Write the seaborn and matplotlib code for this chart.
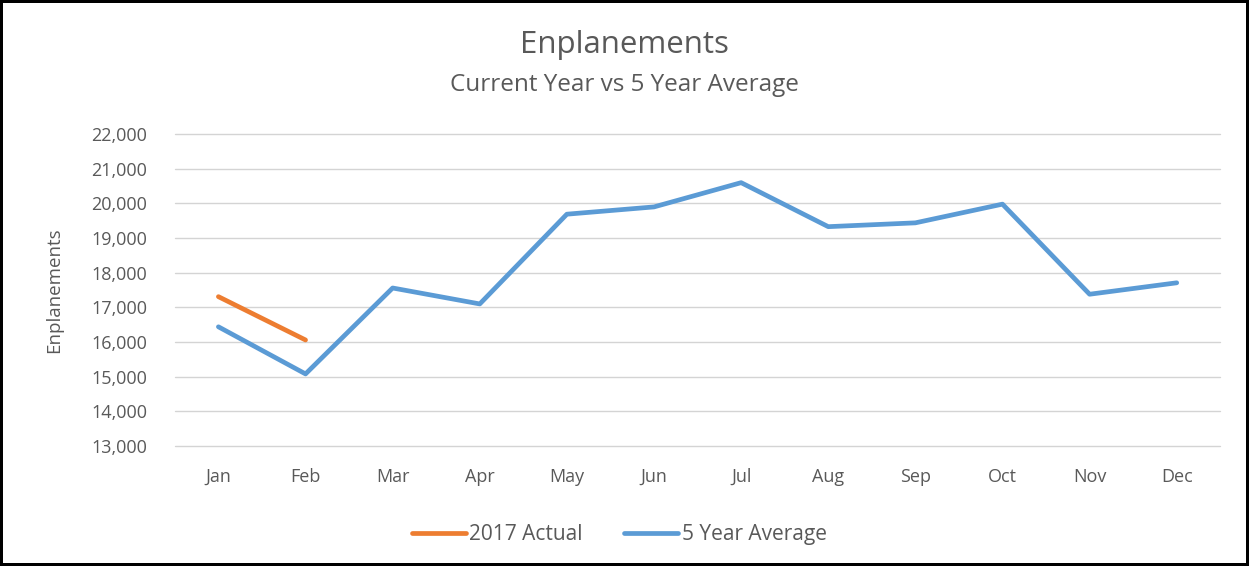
import matplotlib
matplotlib.use("Agg")
import matplotlib.pyplot as plt
import seaborn as sns
import pandas as pd
from matplotlib.ticker import FuncFormatter

months = ["Jan", "Feb", "Mar", "Apr", "May", "Jun", "Jul", "Aug", "Sep", "Oct", "Nov", "Dec"]
actual_2017 = [17310, 16060]
five_year_avg = [16440, 15080, 17560, 17100, 19690, 19900, 20600, 19330, 19440, 19980, 17380, 17710]
y_ticks = [13000, 14000, 15000, 16000, 17000, 18000, 19000, 20000, 21000, 22000]

sns.set_style("white")
plt.rcParams['font.family'] = ['Open Sans', 'DejaVu Sans']

TXT = "#595959"
df = pd.concat([
    pd.DataFrame({"month": months[:len(actual_2017)], "x": range(len(actual_2017)),
                  "value": actual_2017, "series": "2017 Actual"}),
    pd.DataFrame({"month": months, "x": range(len(months)),
                  "value": five_year_avg, "series": "5 Year Average"}),
])

fig = plt.figure(figsize=(12.49, 5.66), dpi=100)
fig.patch.set_edgecolor("black")
fig.patch.set_linewidth(3)
ax = fig.add_axes([0.140, 0.212, 0.837, 0.551])

sns.lineplot(data=df, x="x", y="value", hue="series",
             palette={"2017 Actual": "#ED7D31", "5 Year Average": "#5B9BD5"},
             linewidth=3.4, ax=ax, legend=True, sort=False)

ax.set_xlim(-0.5, len(months) - 0.5)
ax.set_ylim(13000, 22000)
ax.set_xticks(range(len(months)))
ax.set_xticklabels(months)
ax.set_yticks(y_ticks)
ax.yaxis.set_major_formatter(FuncFormatter(lambda v, p: f"{int(v):,}"))
ax.tick_params(axis="both", colors=TXT, labelsize=13, length=0)
ax.tick_params(axis="x", pad=16)
ax.tick_params(axis="y", pad=20)
ax.grid(axis="y", color="#D4D4D4", linewidth=1)
for gl in ax.get_ygridlines():
    gl.set_clip_on(False)
ax.set_axisbelow(True)
for s in ax.spines.values():
    s.set_visible(False)
ax.set_xlabel("")
ax.set_ylabel("Enplanements", color=TXT, fontsize=13.5, labelpad=20)

leg = ax.legend(loc="upper center", bbox_to_anchor=(0.425, -0.19), ncol=2, frameon=False,
                fontsize=15, handlelength=2.6, handletextpad=0.15, columnspacing=2.0)
for t in leg.get_texts():
    t.set_color(TXT)

fig.text(0.5, 0.92, "Enplanements", ha="center", va="center", fontsize=22.5, color=TXT)
fig.text(0.5, 0.85, "Current Year vs 5 Year Average", ha="center", va="center", fontsize=17.5, color=TXT)

fig.savefig("out.png", dpi=100, edgecolor=fig.get_edgecolor())
